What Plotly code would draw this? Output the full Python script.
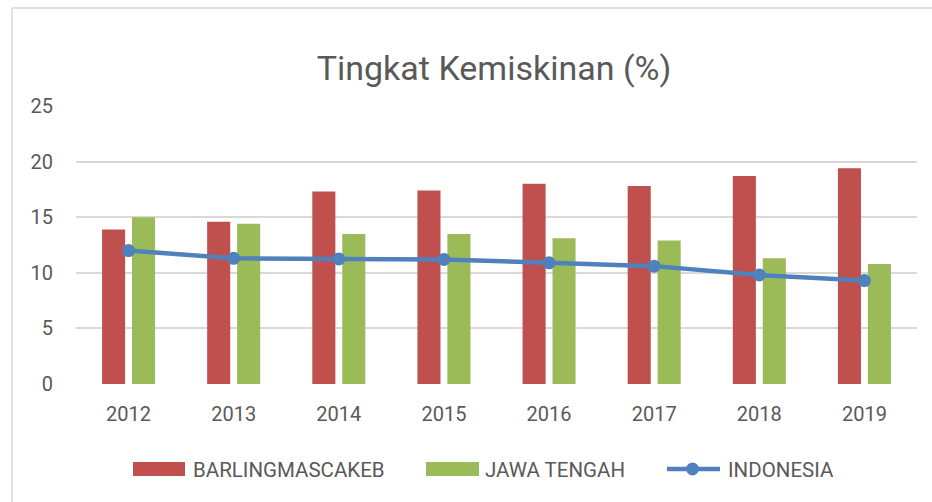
import plotly.graph_objects as go

# ---- data ----
years = ["2012", "2013", "2014", "2015", "2016", "2017", "2018", "2019"]
barlingmascakeb = [13.9, 14.6, 17.3, 17.4, 18.0, 17.8, 18.7, 19.4]
jawa_tengah = [15.0, 14.4, 13.5, 13.5, 13.1, 12.9, 11.3, 10.8]
indonesia = [12.0, 11.3, 11.25, 11.2, 10.9, 10.6, 9.8, 9.3]
series_names = ["BARLINGMASCAKEB", "JAWA TENGAH", "INDONESIA"]
title_text = "Tingkat Kemiskinan (%)"

# ---- style ----
RED = "#C0504D"
GREEN = "#9BBB59"
BLUE = "#4F81BD"
TEXT = "#595959"
GRID = "#D9D9D9"
FONT = "Roboto"

W, H = 932, 502
L, R, T, B = 76, 917, 106, 384  # plot area pixel box


def px_x(px):
    return (px - L) / (R - L)


def px_y(py):
    return (B - py) / (B - T)


fig = go.Figure()
fig.add_trace(go.Bar(x=years, y=barlingmascakeb, name=series_names[0],
                     marker=dict(color=RED, line=dict(width=0)), showlegend=False))
fig.add_trace(go.Bar(x=years, y=jawa_tengah, name=series_names[1],
                     marker=dict(color=GREEN, line=dict(width=0)), showlegend=False))
fig.add_trace(go.Scatter(x=years, y=indonesia, name=series_names[2], mode="lines+markers",
                         line=dict(color=BLUE, width=4.5),
                         marker=dict(color=BLUE, size=13), showlegend=False))

shapes = []
annotations = []

# chart border (left and top edges visible)
shapes.append(dict(type="line", xref="paper", yref="paper",
                   x0=px_x(12), x1=px_x(12), y0=px_y(8), y1=px_y(W),
                   line=dict(color=GRID, width=1.5)))
shapes.append(dict(type="line", xref="paper", yref="paper",
                   x0=px_x(12), x1=px_x(W + 5), y0=px_y(8), y1=px_y(8),
                   line=dict(color=GRID, width=1.5)))

# custom legend
leg_y = 469
shapes.append(dict(type="rect", xref="paper", yref="paper",
                   x0=px_x(133), x1=px_x(185), y0=px_y(462), y1=px_y(476),
                   fillcolor=RED, line=dict(width=0)))
shapes.append(dict(type="rect", xref="paper", yref="paper",
                   x0=px_x(426), x1=px_x(479), y0=px_y(462), y1=px_y(476),
                   fillcolor=GREEN, line=dict(width=0)))
shapes.append(dict(type="line", xref="paper", yref="paper",
                   x0=px_x(667), x1=px_x(720), y0=px_y(leg_y), y1=px_y(leg_y),
                   line=dict(color=BLUE, width=4.5)))
shapes.append(dict(type="circle", xref="paper", yref="paper",
                   x0=px_x(686), x1=px_x(699), y0=px_y(leg_y - 6.5), y1=px_y(leg_y + 6.5),
                   fillcolor=BLUE, line=dict(width=0)))

for name, xpx in zip(series_names, [191, 483, 726]):
    annotations.append(dict(text=name, xref="paper", yref="paper",
                            x=px_x(xpx), y=px_y(leg_y + 1), xanchor="left", yanchor="middle",
                            showarrow=False, font=dict(family=FONT, size=20.5, color=TEXT)))

fig.update_layout(
    width=W, height=H,
    margin=dict(l=L, r=W - R, t=T, b=H - B, pad=0),
    paper_bgcolor="white", plot_bgcolor="white",
    barmode="group", bargap=0.43, bargroupgap=0.23,
    title=dict(text=title_text, x=494 / W, xanchor="center", xref="container",
               y=1 - 68 / H, yanchor="middle", yref="container",
               font=dict(family=FONT, size=34, color=TEXT)),
    font=dict(family=FONT, color=TEXT),
    shapes=shapes, annotations=annotations,
    showlegend=False,
)
fig.update_xaxes(showgrid=False, showline=False, zeroline=False, ticks="",
                 tickfont=dict(family=FONT, size=20, color=TEXT), ticklabelstandoff=16)
fig.update_yaxes(range=[0, 25], tickvals=[0, 5, 10, 15, 20, 25], showgrid=True,
                 gridcolor=GRID, gridwidth=1.5, zeroline=False, showline=False, ticks="",
                 tickfont=dict(family=FONT, size=20, color=TEXT), ticklabelstandoff=22)

fig.write_html("out.html")
